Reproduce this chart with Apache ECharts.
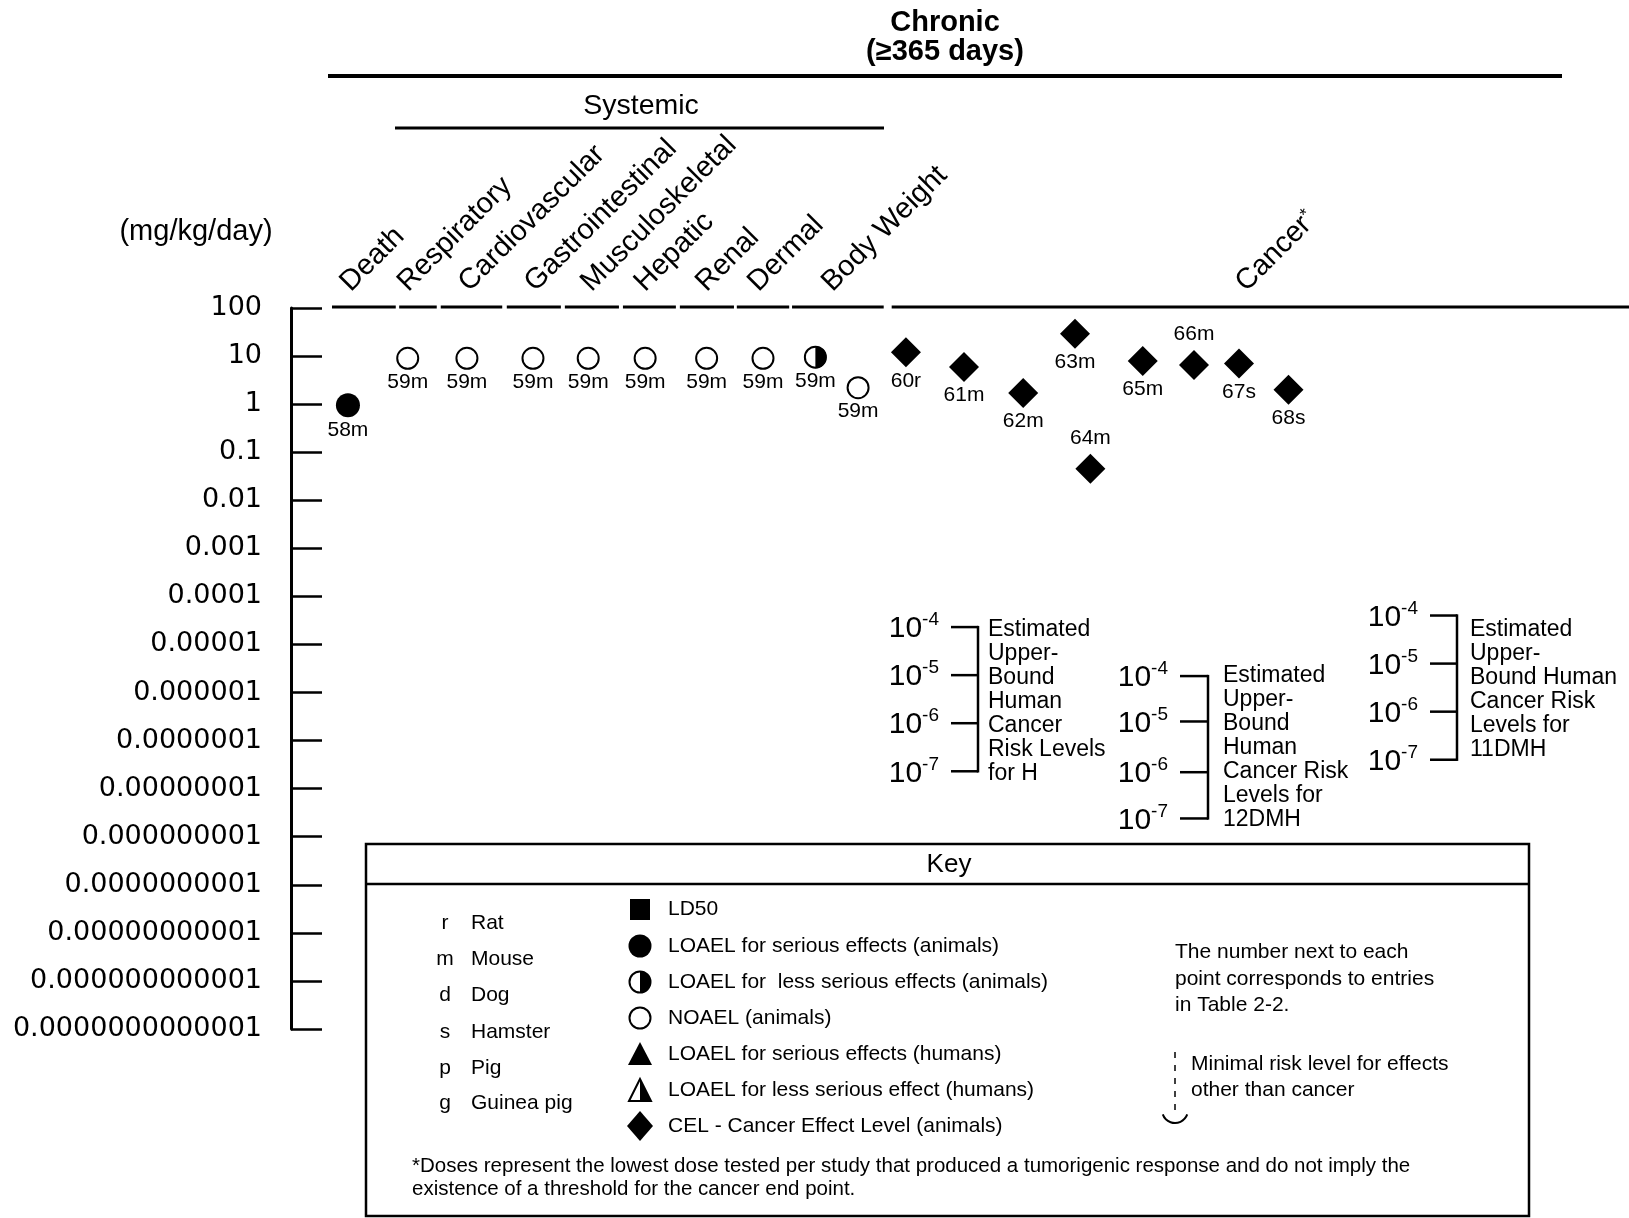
<!DOCTYPE html>
<html lang="en">
<head>
<meta charset="utf-8">
<title>Chronic oral exposure - levels of significant exposure</title>
<script src="https://cdn.jsdelivr.net/npm/echarts@6/dist/echarts.min.js"></script>
<style>
    html, body { margin: 0; padding: 0; background: #fff; }
    #main { width: 1629px; height: 1218px; }
</style>
</head>
<body>
<div id="main"></div>
<script>
    // ---- data ----
    // x = column slot along the hidden horizontal axis, dose in mg/kg/day
    var seriousX = [1.0],
        seriousDose = [0.95],
        seriousLbl = ['58m'];

    var noaelX = [2.05, 3.09, 4.25, 5.22, 6.22, 7.30, 8.29, 9.96],
        noaelDose = [9, 9, 9, 9, 9, 9, 9, 2.2],
        noaelLbl = ['59m', '59m', '59m', '59m', '59m', '59m', '59m', '59m'];

    var lessX = [9.21],
        lessDose = [9.5],
        lessLbl = ['59m'];

    var celX = [10.80, 11.82, 12.86, 13.77, 14.04, 14.96, 15.86, 16.65, 17.52],
        celDose = [12, 5.9, 1.7, 29, 0.045, 7.9, 6.5, 7.0, 2.0],
        celLbl = ['60r', '61m', '62m', '63m', '64m', '65m', '66m', '67s', '68s'];
    var labelsAbove = ['64m', '66m'];

    var categories = ['Death', 'Respiratory', 'Cardiovascular', 'Gastrointestinal', 'Musculoskeletal',
        'Hepatic', 'Renal', 'Dermal', 'Body Weight', 'Cancer'];

    // cancer risk levels (doses for 10^-4 .. 10^-7)
    var riskExp = [-4, -5, -6, -7];
    var riskH = [2.3e-5, 2.3e-6, 2.3e-7, 2.3e-8],
        risk12DMH = [2.2e-6, 2.5e-7, 2.2e-8, 2.4e-9],
        risk11DMH = [4e-5, 4e-6, 4e-7, 4e-8];

    var species = [['r', 'Rat'], ['m', 'Mouse'], ['d', 'Dog'], ['s', 'Hamster'], ['p', 'Pig'], ['g', 'Guinea pig']];
    var keyItems = ['LD50', 'LOAEL for serious effects (animals)', 'LOAEL for  less serious effects (animals)',
        'NOAEL (animals)', 'LOAEL for serious effects (humans)', 'LOAEL for less serious effect (humans)',
        'CEL - Cancer Effect Level (animals)'];

    // ---- layout (not data) ----
    var catLabelX = [1.13, 2.14, 3.21, 4.37, 5.36, 6.30, 7.38, 8.29, 9.59, 16.86];
    var catSegments = [[0.72, 1.84], [1.90, 2.56], [2.63, 3.71], [3.79, 4.74], [4.81, 5.76],
        [5.83, 6.76], [6.83, 7.78], [7.83, 8.75], [8.80, 10.41], [10.55, 23.5]];

    var FONT = '"Liberation Sans", Arial, sans-serif';

    function decimalLabel(v) {
        var e = Math.round(Math.log10(v));
        if (e >= 0) return String(Math.pow(10, e));
        return '0.' + '0'.repeat(-e - 1) + '1';
    }

    function ptLabel(pos, dist) {
        return {
            show: true, position: pos, distance: dist, formatter: '{b}',
            color: '#000', fontFamily: FONT, fontSize: 21
        };
    }

    function points(xs, ds, ls) {
        return xs.map(function (x, i) {
            var item = { value: [x, ds[i]], name: ls[i] };
            if (labelsAbove.indexOf(ls[i]) >= 0) item.label = { position: 'top', distance: 5 };
            return item;
        });
    }

    var myChart = echarts.init(document.getElementById('main'), null, { renderer: 'canvas' });

    myChart.setOption({
        animation: false,
        backgroundColor: '#fff',
        grid: { left: 291, right: 0, top: 308, bottom: 189, containLabel: false, outerBoundsMode: 'none' },
        xAxis: { type: 'value', min: 0, max: 23.5, show: false },
        yAxis: {
            type: 'log', logBase: 10, min: 1e-13, max: 100, interval: 1,
            axisLine: { show: true, lineStyle: { color: '#000', width: 3 } },
            axisTick: { show: true, inside: true, length: 31, lineStyle: { color: '#000', width: 2.5 } },
            splitLine: { show: false },
            axisLabel: {
                show: true, color: '#000', fontFamily: '"DejaVu Sans", sans-serif', fontSize: 27,
                margin: 29, showMinLabel: true, showMaxLabel: true, formatter: decimalLabel
            }
        },
        series: [{
            name: 'LOAEL serious', type: 'scatter', symbol: 'circle', symbolSize: 24,
            itemStyle: { color: '#000', opacity: 1 }, label: ptLabel('bottom', 2),
            data: points(seriousX, seriousDose, seriousLbl)
        }, {
            name: 'NOAEL', type: 'scatter', symbol: 'circle', symbolSize: 21,
            itemStyle: { color: '#fff', borderColor: '#000', borderWidth: 2, opacity: 1 }, label: ptLabel('bottom', 2),
            data: points(noaelX, noaelDose, noaelLbl)
        }, {
            name: 'LOAEL less serious', type: 'scatter', symbol: 'circle', symbolSize: 21,
            itemStyle: { color: '#fff', borderColor: '#000', borderWidth: 2, opacity: 1 }, label: ptLabel('bottom', 2),
            data: points(lessX, lessDose, lessLbl)
        }, {
            name: 'LOAEL less serious (half)', type: 'scatter',
            symbol: 'path://M0,0A10,10 0 0 1 0,20Z', symbolSize: [11, 22], symbolOffset: ['50%', 0],
            itemStyle: { color: '#000', opacity: 1 },
            data: points(lessX, lessDose, lessLbl).map(function (d) { return { value: d.value }; })
        }, {
            name: 'CEL', type: 'scatter', symbol: 'diamond', symbolSize: 30,
            itemStyle: { color: '#000', opacity: 1 }, label: ptLabel('bottom', 3),
            data: points(celX, celDose, celLbl)
        }]
    });

    // ---- annotations placed through the chart's own scales ----
    var px = function (x) { return myChart.convertToPixel({ xAxisIndex: 0 }, x); };
    var py = function (v) { return myChart.convertToPixel({ yAxisIndex: 0 }, v); };
    var g = [];

    function line(x1, y1, x2, y2, w, dash) {
        g.push({ type: 'line', silent: true, shape: { x1: x1, y1: y1, x2: x2, y2: y2 },
            style: { stroke: '#000', lineWidth: w || 2.5, lineDash: dash || null } });
    }
    function text(x, y, t, size, extra) {
        var st = { text: t, fill: '#000', font: (size || 21) + 'px ' + FONT, align: 'left', verticalAlign: 'middle' };
        for (var k in extra) st[k] = extra[k];
        g.push({ type: 'text', silent: true, x: x, y: y, style: st });
    }

    // headers
    text(945, 23, 'Chronic', 29, { align: 'center', font: 'bold 29px ' + FONT });
    text(945, 52, '(\u2265365 days)', 29, { align: 'center', font: 'bold 29px ' + FONT });
    line(328, 76, 1562, 76, 4);
    text(641, 106, 'Systemic', 28.5, { align: 'center' });
    line(395, 128, 884, 128, 3);
    text(196, 232, '(mg/kg/day)', 29, { align: 'center' });

    // category labels and their segment rules along the top of the plot
    var topY = py(100);
    catSegments.forEach(function (s) { line(px(s[0]), topY - 1, px(s[1]), topY - 1, 3); });
    categories.forEach(function (c, i) {
        var t = c === 'Cancer' ? '{a|Cancer}{s|*}' : '{a|' + c + '}';
        g.push({
            type: 'text', silent: true, x: px(catLabelX[i]), y: topY - 11, rotation: Math.PI / 4,
            style: {
                text: t, fill: '#000', align: 'left', verticalAlign: 'bottom',
                rich: {
                    a: { fontFamily: FONT, fontSize: 29, fill: '#000' },
                    s: { fontFamily: FONT, fontSize: 18, fill: '#000', padding: [0, 0, 10, 0] }
                }
            }
        });
    });

    // cancer risk brackets
    function bracket(doses, labRight, tickL, tickR, textX, textTop, txt) {
        var ys = doses.map(py);
        ys.forEach(function (y, i) {
            line(tickL, y, tickR, y, 2.5);
            g.push({
                type: 'text', silent: true, x: labRight, y: y + 2,
                style: {
                    text: '{b|10}{s|' + riskExp[i] + '}', align: 'right', verticalAlign: 'middle',
                    rich: {
                        b: { fontFamily: FONT, fontSize: 30, fill: '#000' },
                        s: { fontFamily: FONT, fontSize: 19, fill: '#000', padding: [0, 0, 18, 0] }
                    }
                }
            });
        });
        line(tickR, ys[0] - 1.2, tickR, ys[ys.length - 1] + 1.2, 2.5);
        text(textX, textTop, txt, 23, { verticalAlign: 'top', lineHeight: 24 });
    }
    bracket(riskH, 939, 951, 978, 988, 618,
        'Estimated\nUpper-\nBound\nHuman\nCancer\nRisk Levels\nfor H');
    bracket(risk12DMH, 1168, 1180, 1208, 1223, 664,
        'Estimated\nUpper-\nBound\nHuman\nCancer Risk\nLevels for\n12DMH');
    bracket(risk11DMH, 1418, 1430, 1457, 1470, 618,
        'Estimated\nUpper-\nBound Human\nCancer Risk\nLevels for\n11DMH');

    // key box
    g.push({ type: 'rect', silent: true, shape: { x: 366, y: 844, width: 1163, height: 372 },
        style: { fill: 'none', stroke: '#000', lineWidth: 2.5 } });
    line(366, 884, 1529, 884, 2.5);
    text(949, 865, 'Key', 26, { align: 'center' });

    var rowY = [923, 959, 995, 1032, 1068, 1103];
    species.forEach(function (s, i) {
        text(445, rowY[i], s[0], 21, { align: 'center' });
        text(471, rowY[i], s[1], 21);
    });

    var keyY = [909, 946, 982, 1018, 1054, 1090, 1126];
    var cx = 640;
    keyItems.forEach(function (t, i) { text(668, keyY[i], t, 21); });
    g.push({ type: 'rect', silent: true, shape: { x: cx - 10, y: keyY[0] - 10, width: 20, height: 21 }, style: { fill: '#000' } });
    g.push({ type: 'circle', silent: true, shape: { cx: cx, cy: keyY[1], r: 11.5 }, style: { fill: '#000' } });
    g.push({ type: 'circle', silent: true, shape: { cx: cx, cy: keyY[2], r: 10.5 }, style: { fill: '#fff', stroke: '#000', lineWidth: 2 } });
    g.push({ type: 'sector', silent: true, shape: { cx: cx, cy: keyY[2], r0: 0, r: 10.5, startAngle: -Math.PI / 2, endAngle: Math.PI / 2, clockwise: true }, style: { fill: '#000' } });
    g.push({ type: 'circle', silent: true, shape: { cx: cx, cy: keyY[3], r: 10.5 }, style: { fill: '#fff', stroke: '#000', lineWidth: 2 } });
    g.push({ type: 'polygon', silent: true, shape: { points: [[cx - 12, keyY[4] + 11], [cx, keyY[4] - 12], [cx + 12, keyY[4] + 11]] }, style: { fill: '#000' } });
    g.push({ type: 'polygon', silent: true, shape: { points: [[cx - 11, keyY[5] + 11], [cx, keyY[5] - 11], [cx + 11, keyY[5] + 11]] }, style: { fill: '#fff', stroke: '#000', lineWidth: 2 } });
    g.push({ type: 'polygon', silent: true, shape: { points: [[cx, keyY[5] - 11], [cx + 11, keyY[5] + 11], [cx, keyY[5] + 11]] }, style: { fill: '#000' } });
    g.push({ type: 'polygon', silent: true, shape: { points: [[cx, keyY[6] - 15], [cx + 13, keyY[6]], [cx, keyY[6] + 15], [cx - 13, keyY[6]]] }, style: { fill: '#000' } });

    text(1175, 939, 'The number next to each\npoint corresponds to entries\nin Table 2-2.', 21, { verticalAlign: 'top', lineHeight: 26.5 });

    line(1175, 1052, 1175, 1110, 1.5, [6, 7]);
    g.push({ type: 'arc', silent: true, shape: { cx: 1175, cy: 1110, r: 13, startAngle: 0.35, endAngle: Math.PI - 0.35, clockwise: true },
        style: { stroke: '#000', lineWidth: 2, fill: 'none' } });
    text(1191, 1051, 'Minimal risk level for effects\nother than cancer', 21, { verticalAlign: 'top', lineHeight: 26 });

    text(412, 1155, '*Doses represent the lowest dose tested per study that produced a tumorigenic response and do not imply the\nexistence of a threshold for the cancer end point.', 20.5, { verticalAlign: 'top', lineHeight: 23 });

    myChart.setOption({ graphic: g });
</script>
</body>
</html>
